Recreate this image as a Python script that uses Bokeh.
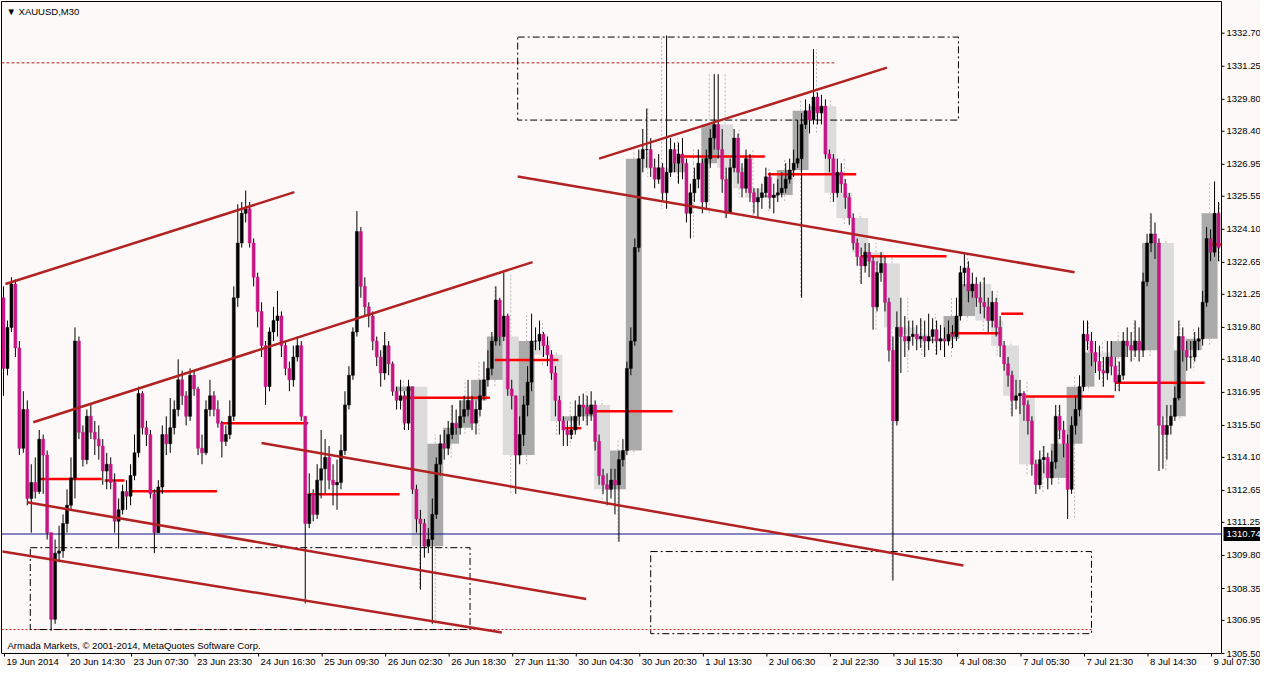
from bokeh.plotting import figure
from bokeh.models import Range1d, ColumnDataSource
from bokeh.core.properties import value
from bokeh.embed import file_html
from bokeh.resources import INLINE

# ---------------- data (XAUUSD; H1 resolution) ----------------
open_first = 1321.1
close = [
    1318.0, 1319.8, 1321.7, 1318.9, 1314.5, 1316.2, 1312.3, 1313.0, 1312.6, 1314.9,
    1314.2, 1310.8, 1307.0, 1309.9, 1310.0, 1311.2, 1312.0, 1313.2, 1319.2, 1315.2,
    1314.0, 1315.9, 1315.2, 1314.9, 1314.6, 1313.5, 1313.8, 1313.0, 1311.3, 1311.8,
    1312.6, 1312.4, 1313.3, 1314.3, 1316.9, 1315.4, 1315.1, 1312.5, 1310.8, 1312.8,
    1315.1, 1314.7, 1315.4, 1316.2, 1317.5, 1316.8, 1315.9, 1317.7, 1317.1, 1314.5,
    1314.3, 1316.2, 1316.8, 1316.2, 1315.6, 1314.8, 1315.1, 1315.9, 1321.1, 1323.5,
    1324.8, 1325.0, 1323.5, 1322.0, 1320.5, 1319.0, 1317.2, 1319.6, 1320.1, 1320.3,
    1319.0, 1318.0, 1317.5, 1318.5, 1319.0, 1315.9, 1311.2, 1312.5, 1311.6, 1313.1,
    1313.6, 1314.1, 1313.1, 1312.9, 1313.0, 1314.4, 1316.4, 1317.7, 1319.6, 1324.0,
    1321.6, 1320.7, 1320.3, 1319.2, 1318.5, 1317.8, 1319.0, 1318.2, 1317.0, 1316.6,
    1316.8, 1315.6, 1317.2, 1312.7, 1311.4, 1311.2, 1310.2, 1310.5, 1311.6, 1313.8,
    1314.7, 1314.5, 1315.1, 1315.6, 1315.4, 1315.9, 1316.2, 1316.6, 1315.6, 1316.2,
    1316.8, 1317.5, 1318.0, 1319.2, 1321.0, 1319.4, 1320.3, 1317.1, 1316.8, 1314.2,
    1315.1, 1316.4, 1317.4, 1319.2, 1319.2, 1319.5, 1319.0, 1318.6, 1317.8, 1316.6,
    1315.7, 1315.3, 1315.1, 1315.3, 1315.9, 1316.4, 1316.3, 1316.0, 1316.4, 1314.8,
    1313.3, 1312.9, 1312.7, 1313.1, 1312.9, 1314.0, 1314.4, 1318.0, 1319.2, 1323.3,
    1327.2, 1327.6, 1327.6, 1326.8, 1326.3, 1326.8, 1325.7, 1326.6, 1327.6, 1327.0,
    1327.4, 1327.0, 1324.8, 1325.7, 1326.3, 1327.0, 1325.3, 1327.2, 1328.1, 1328.7,
    1327.6, 1326.3, 1324.8, 1326.8, 1328.1, 1326.6, 1325.9, 1327.2, 1325.7, 1325.3,
    1325.5, 1325.7, 1326.4, 1325.5, 1325.6, 1325.7, 1325.9, 1326.3, 1326.7, 1327.0,
    1327.2, 1328.7, 1329.3, 1328.9, 1329.9, 1329.2, 1329.5, 1327.4, 1327.2, 1325.7,
    1326.6, 1326.1, 1325.5, 1324.6, 1323.5, 1322.9, 1322.5, 1323.1, 1322.7, 1320.7,
    1322.2, 1322.6, 1320.9, 1318.8, 1315.7, 1319.8, 1319.4, 1319.2, 1319.4, 1319.5,
    1319.3, 1319.4, 1319.2, 1319.4, 1319.7, 1319.2, 1319.3, 1319.2, 1319.5, 1319.4,
    1320.3, 1322.2, 1322.4, 1321.4, 1321.7, 1321.1, 1320.9, 1320.7, 1320.1, 1320.9,
    1319.8, 1319.0, 1318.2, 1317.7, 1316.6, 1316.8, 1316.9, 1316.4, 1315.7, 1313.8,
    1312.9, 1314.0, 1314.1, 1313.2, 1313.9, 1315.9, 1315.3, 1314.7, 1312.7, 1315.5,
    1316.2, 1317.2, 1319.5, 1319.2, 1318.7, 1318.3, 1317.9, 1317.8, 1318.5, 1318.1,
    1317.4, 1317.7, 1319.2, 1319.0, 1318.8, 1319.2, 1318.8, 1321.8, 1323.5, 1323.9,
    1323.5, 1315.5, 1315.1, 1315.5, 1315.9, 1316.7, 1319.4, 1318.8, 1318.5, 1318.5,
    1319.2, 1319.3, 1320.9, 1323.7, 1323.1, 1324.8, 1323.3,
]
high = [
    1321.6, 1320.1, 1322.0, 1321.9, 1319.2, 1317.0, 1316.6, 1313.8, 1314.1, 1315.3,
    1315.1, 1314.4, 1310.8, 1310.5, 1311.1, 1311.6, 1312.7, 1314.1, 1319.8, 1319.4,
    1315.5, 1316.2, 1316.4, 1315.7, 1315.5, 1314.9, 1314.3, 1314.1, 1313.4, 1312.3,
    1312.9, 1313.1, 1313.8, 1315.1, 1317.2, 1317.0, 1315.7, 1315.3, 1312.7, 1313.1,
    1315.5, 1315.9, 1316.7, 1316.6, 1318.4, 1317.9, 1317.0, 1318.0, 1317.9, 1317.2,
    1315.1, 1316.6, 1317.5, 1317.0, 1316.6, 1315.7, 1315.5, 1316.6, 1321.6, 1325.2,
    1325.3, 1325.8, 1325.3, 1323.7, 1322.2, 1320.9, 1319.2, 1319.8, 1320.7, 1321.4,
    1320.5, 1319.2, 1318.3, 1319.0, 1319.4, 1319.2, 1315.9, 1313.4, 1312.7, 1313.8,
    1315.3, 1314.9, 1314.6, 1313.8, 1314.0, 1315.1, 1317.0, 1318.1, 1319.8, 1324.9,
    1324.2, 1322.0, 1320.9, 1320.5, 1319.4, 1318.8, 1319.6, 1319.2, 1318.3, 1317.2,
    1317.5, 1317.0, 1317.5, 1317.2, 1312.9, 1311.8, 1311.4, 1311.0, 1312.3, 1314.1,
    1315.1, 1315.3, 1315.7, 1316.4, 1316.2, 1316.6, 1316.8, 1317.5, 1316.8, 1316.6,
    1317.5, 1318.3, 1318.8, 1319.6, 1321.6, 1321.1, 1322.2, 1320.4, 1317.5, 1316.8,
    1315.9, 1316.8, 1318.1, 1320.4, 1319.8, 1320.1, 1319.6, 1319.4, 1318.8, 1318.1,
    1316.8, 1315.9, 1315.7, 1315.9, 1316.6, 1316.8, 1316.9, 1316.8, 1317.0, 1316.6,
    1315.1, 1313.6, 1313.4, 1313.6, 1313.6, 1314.4, 1314.9, 1318.3, 1319.8, 1323.7,
    1327.6, 1328.5, 1329.4, 1328.1, 1327.2, 1327.4, 1327.0, 1332.6, 1328.1, 1327.9,
    1327.9, 1328.1, 1327.2, 1326.1, 1326.8, 1327.6, 1327.2, 1327.6, 1328.5, 1330.9,
    1330.9, 1328.5, 1326.8, 1327.2, 1328.5, 1328.3, 1327.0, 1327.6, 1327.4, 1325.9,
    1325.9, 1326.1, 1326.8, 1326.6, 1326.1, 1326.3, 1326.6, 1327.0, 1327.2, 1327.6,
    1328.9, 1329.2, 1329.8, 1329.6, 1332.0, 1330.1, 1330.0, 1329.8, 1327.6, 1327.4,
    1327.2, 1327.0, 1326.3, 1325.7, 1324.8, 1323.7, 1323.3, 1323.5, 1323.5, 1322.9,
    1322.7, 1323.1, 1322.9, 1321.1, 1319.4, 1320.5, 1321.1, 1320.3, 1320.1, 1320.1,
    1319.9, 1320.2, 1320.1, 1320.4, 1320.2, 1320.1, 1319.9, 1319.8, 1320.1, 1319.9,
    1321.1, 1322.5, 1323.1, 1322.7, 1322.2, 1322.0, 1321.8, 1322.0, 1321.1, 1321.4,
    1321.1, 1320.3, 1319.2, 1318.5, 1317.9, 1317.5, 1317.5, 1317.0, 1316.6, 1315.9,
    1314.0, 1314.4, 1314.6, 1314.3, 1314.4, 1316.4, 1316.4, 1315.7, 1315.1, 1315.9,
    1316.8, 1317.7, 1320.1, 1320.1, 1319.6, 1319.2, 1319.0, 1318.5, 1319.2, 1319.2,
    1318.5, 1318.3, 1319.6, 1319.8, 1319.6, 1320.1, 1319.8, 1322.2, 1323.9, 1324.8,
    1324.4, 1323.7, 1315.9, 1316.4, 1316.4, 1317.2, 1320.1, 1319.8, 1319.2, 1319.2,
    1319.6, 1319.8, 1321.4, 1324.2, 1324.1, 1326.2, 1325.3,
]
low = [
    1316.8, 1317.7, 1319.6, 1318.5, 1314.2, 1314.3, 1312.0, 1310.8, 1312.3, 1312.5,
    1312.5, 1310.5, 1306.5, 1306.8, 1309.5, 1309.7, 1310.8, 1311.8, 1312.3, 1314.9,
    1313.7, 1313.8, 1314.9, 1314.2, 1314.0, 1312.9, 1312.7, 1312.7, 1310.8, 1310.1,
    1311.6, 1311.8, 1312.0, 1313.1, 1314.1, 1315.1, 1314.6, 1312.3, 1309.9, 1310.8,
    1312.5, 1314.2, 1314.3, 1315.1, 1315.9, 1316.4, 1315.5, 1315.7, 1316.8, 1314.2,
    1313.8, 1314.2, 1315.9, 1315.9, 1315.4, 1314.1, 1314.6, 1314.9, 1315.7, 1320.7,
    1323.3, 1324.4, 1323.3, 1321.6, 1319.8, 1318.5, 1316.4, 1317.0, 1319.2, 1319.4,
    1318.5, 1317.7, 1317.0, 1317.2, 1318.3, 1315.7, 1307.7, 1311.0, 1311.3, 1311.4,
    1312.3, 1312.5, 1312.7, 1312.0, 1311.8, 1312.7, 1314.2, 1316.2, 1317.5, 1319.4,
    1321.1, 1320.3, 1319.8, 1318.8, 1318.1, 1317.2, 1317.5, 1317.7, 1316.8, 1316.2,
    1316.2, 1315.3, 1315.3, 1312.5, 1310.8, 1308.3, 1309.7, 1309.9, 1306.8, 1311.4,
    1313.3, 1314.0, 1314.2, 1314.9, 1315.1, 1315.1, 1315.6, 1315.9, 1315.3, 1315.1,
    1315.9, 1316.6, 1317.2, 1317.7, 1319.0, 1319.0, 1319.2, 1316.8, 1316.2, 1312.5,
    1313.8, 1314.6, 1315.9, 1317.0, 1318.8, 1318.8, 1318.5, 1318.1, 1317.5, 1315.9,
    1315.1, 1314.6, 1314.6, 1314.9, 1315.1, 1315.5, 1315.7, 1315.5, 1315.7, 1314.4,
    1312.9, 1312.5, 1312.0, 1312.3, 1311.6, 1310.4, 1313.7, 1314.2, 1317.7, 1319.0,
    1323.1, 1326.6, 1326.8, 1326.4, 1325.9, 1326.1, 1325.3, 1325.0, 1326.4, 1326.6,
    1326.1, 1326.3, 1324.4, 1323.7, 1325.3, 1325.9, 1324.8, 1325.0, 1326.8, 1327.6,
    1327.2, 1325.7, 1324.6, 1324.8, 1326.6, 1326.1, 1325.5, 1325.7, 1325.3, 1324.8,
    1324.6, 1325.0, 1325.5, 1325.0, 1324.8, 1325.3, 1325.5, 1325.7, 1326.1, 1326.4,
    1326.8, 1321.1, 1328.5, 1328.3, 1328.7, 1328.7, 1328.7, 1327.2, 1326.6, 1325.3,
    1325.5, 1325.7, 1325.0, 1324.3, 1323.2, 1322.5, 1321.7, 1322.2, 1322.0, 1319.7,
    1320.5, 1321.8, 1320.5, 1318.3, 1308.7, 1315.5, 1317.8, 1318.5, 1318.8, 1319.0,
    1318.8, 1318.9, 1318.5, 1318.8, 1319.1, 1318.6, 1318.8, 1318.5, 1319.0, 1318.9,
    1319.2, 1320.1, 1321.6, 1320.9, 1321.1, 1320.7, 1320.4, 1320.2, 1319.6, 1319.8,
    1319.4, 1318.5, 1317.9, 1317.2, 1315.9, 1316.2, 1316.0, 1315.7, 1315.1, 1313.3,
    1312.5, 1312.7, 1313.4, 1312.7, 1312.9, 1313.6, 1314.9, 1314.1, 1311.4, 1312.5,
    1315.1, 1315.9, 1317.0, 1318.8, 1318.1, 1317.8, 1317.5, 1317.2, 1317.5, 1317.7,
    1317.0, 1317.0, 1317.5, 1318.5, 1318.3, 1318.5, 1318.3, 1318.5, 1321.6, 1323.1,
    1322.8, 1313.5, 1313.6, 1314.0, 1315.1, 1315.7, 1316.6, 1318.3, 1317.9, 1318.0,
    1318.3, 1318.8, 1319.0, 1320.7, 1322.7, 1322.9, 1322.7,
]

# H4 periods (index of the H1 bar that opens each H4 period; last value = end)
h4_bounds = [99, 103, 107, 111, 115, 118, 122, 126, 130, 134, 138, 141, 145, 149, 153,
             157, 161, 164, 168, 172, 176, 180, 184, 187, 191, 195, 199, 203, 207, 210,
             214, 218, 222, 226, 230, 233, 237, 241, 245, 249, 252, 256, 260, 264, 268,
             272, 275, 279, 283, 287, 291, 295, 298, 302, 306, 307]

# trend lines: (M30 bar, price) -> (M30 bar, price)
trend_bar0 = [0.5, 14.5, 11.5, -1.0, 129.5, 258.5, 299.5]
trend_px0 = [1321.70, 1315.64, 1312.13, 1309.97, 1314.73, 1326.42, 1327.20]
trend_bar1 = [146.0, 266.0, 293.0, 250.5, 483.0, 539.0, 444.5]
trend_px1 = [1325.73, 1322.66, 1307.89, 1306.42, 1309.36, 1322.22, 1331.19]

# red daily levels
level_px = [1313.15, 1313.09, 1312.61, 1315.60, 1312.48, 1316.72, 1318.37, 1315.38, 1316.12,
            1327.29, 1326.51, 1322.92, 1319.54, 1320.40, 1316.77, 1317.37, 1323.43]
level_bar0 = [17, 50.5, 63, 109, 154, 200.5, 247, 282, 293, 339, 384.5, 431.5, 476.5, 502,
              514.5, 559.5, 608]
level_bar1 = [49, 60.5, 107, 153, 199, 244.5, 279, 290.5, 336.5, 383, 429, 474.5, 501, 513,
              559, 604.5, 613]

# dash-dot zones
zone_bar0 = [258.5, 13.0, 325.5]
zone_bar1 = [480.5, 234.5, 547.5]
zone_top = [1332.53, 1310.14, 1309.97]
zone_bottom = [1328.89, 1306.55, 1306.37]

resist_px, resist_bar1 = 1331.40, 418.0
support_px, support_bar1 = 1306.55, 547.5
hline_px = 1310.74

price_ticks = [1305.50, 1306.95, 1308.35, 1309.80, 1311.25, 1312.65, 1314.10, 1315.50,
               1316.95, 1318.40, 1319.80, 1321.25, 1322.65, 1324.10, 1325.55, 1326.95,
               1328.40, 1329.80, 1331.25, 1332.70]
time_labels = ["19 Jun 2014", "20 Jun 14:30", "23 Jun 07:30", "23 Jun 23:30", "24 Jun 16:30",
               "25 Jun 09:30", "26 Jun 02:30", "26 Jun 18:30", "27 Jun 11:30", "30 Jun 04:30",
               "30 Jun 20:30", "1 Jul 13:30", "2 Jul 06:30", "2 Jul 22:30", "3 Jul 15:30",
               "4 Jul 08:30", "7 Jul 05:30", "7 Jul 21:30", "8 Jul 14:30", "9 Jul 07:30"]
time_label_bars = [32 * k for k in range(len(time_labels))]

# ---------------- derived tables ----------------
opens = [open_first] + close[:-1]
n = len(close)
xc = [2 * j - 0.5 for j in range(n)]
bull = [close[j] >= opens[j] for j in range(n)]
candles = ColumnDataSource(dict(
    x=xc, h=high, l=low,
    top=[max(opens[j], close[j]) for j in range(n)],
    bot=[min(opens[j], close[j]) for j in range(n)],
    col=["#000000" if bull[j] else "#C71585" for j in range(n)],
))

bl, br, bt, bb, bcol, bx, bh, blo = [], [], [], [], [], [], [], []
for a, b in zip(h4_bounds[:-1], h4_bounds[1:]):
    o = opens[a]
    c = close[b - 1]
    bl.append(2 * a - 1)
    br.append(2 * b - 1)
    bt.append(max(o, c))
    bb.append(min(o, c))
    bcol.append("#AAAAAA" if c >= o else "#DCDCDC")
    bx.append((2 * a - 1 + 2 * b - 1) / 2)
    bh.append(max(high[a:b]))
    blo.append(min(low[a:b]))
boxes = ColumnDataSource(dict(l=bl, r=br, t=bt, b=bb, col=bcol, x=bx, h=bh, lo=blo))

# ---------------- layout (whole figure is the drawing frame) ----------------
W, H = 1260, 666
BAR_L, BAR_R = -1.5, 613.0          # chart window in M30 bars
P_TOP, P_BOT = 1334.09, 1305.5      # chart window in price
FX_L, FX_R, FY_T, FY_B = 1, 1221, 1, 653   # chart window in figure pixels
sx = (FX_R - FX_L) / (BAR_R - BAR_L)
sy = (FY_B - FY_T) / (P_TOP - P_BOT)
x_range = Range1d(BAR_L - FX_L / sx, BAR_L + (W - FX_L) / sx)
y_range = Range1d(P_BOT - (H - FY_B) / sy, P_TOP + FY_T / sy)

BG = "#FCF9F8"
FONT = "Liberation Sans"
FS = "9.5px"

p = figure(width=W, height=H, output_backend="svg", toolbar_location=None,
           x_range=x_range, y_range=y_range, x_axis_location=None, y_axis_location=None,
           min_border=0)
p.background_fill_color = BG
p.border_fill_color = BG
p.outline_line_color = None
p.grid.visible = False

# H4 boxes and their wicks
p.segment(x0="x", y0="t", x1="x", y1="h", source=boxes, line_color="#B8B8B8",
          line_width=1, line_dash="2 2")
p.segment(x0="x", y0="b", x1="x", y1="lo", source=boxes, line_color="#B8B8B8",
          line_width=1, line_dash="2 2")
p.quad(left="l", right="r", top="t", bottom="b", source=boxes, fill_color="col",
       line_color=None)

# horizontal lines
p.segment(x0=[BAR_L], y0=[hline_px], x1=[BAR_R], y1=[hline_px], line_color="#10108C",
          line_width=1.2)
p.segment(x0=[BAR_L], y0=[resist_px], x1=[resist_bar1], y1=[resist_px], line_color="#B22222",
          line_width=1, line_dash="3 2")
p.segment(x0=[BAR_L], y0=[support_px], x1=[support_bar1], y1=[support_px],
          line_color="#D02020", line_width=1, line_dash="2 2")

# dash-dot zones
p.quad(left=zone_bar0, right=zone_bar1, top=zone_top, bottom=zone_bottom, fill_color=None,
       line_color="black", line_width=1, line_dash="7 3 2 3")

# red daily levels
p.segment(x0=level_bar0, y0=level_px, x1=level_bar1, y1=level_px, line_color="#FF0000",
          line_width=2.5)

# candles
p.segment(x0="x", y0="l", x1="x", y1="h", source=candles, line_color="black", line_width=1)
p.vbar(x="x", width=1.5, top="top", bottom="bot", source=candles, fill_color="col",
       line_color="col", line_width=0.5)

# trend lines
p.segment(x0=trend_bar0, y0=trend_px0, x1=trend_bar1, y1=trend_px1, line_color="#B22222",
          line_width=2.5)

# chart frame
p.quad(left=[BAR_L], right=[BAR_R], top=[P_TOP], bottom=[P_BOT], fill_color=None,
       line_color="black", line_width=1)

# price scale (right): ticks + labels
p.segment(x0=[BAR_R] * len(price_ticks), y0=price_ticks,
          x1=[BAR_R + 3 / sx] * len(price_ticks), y1=price_ticks, line_color="black",
          line_width=1)
p.text(x=[BAR_R] * len(price_ticks), y=price_ticks, text=["%.2f" % v for v in price_ticks],
       x_offset=5, text_font=value(FONT), text_font_size=value(FS), text_color="black",
       text_baseline="middle", text_align="left")

# current-level marker on the price scale
p.quad(left=[BAR_R + 2 / sx], right=[BAR_R + 39 / sx], top=[hline_px + 7 / sy],
       bottom=[hline_px - 7 / sy], fill_color="black", line_color=None)
p.text(x=[BAR_R], y=[hline_px], text=["%.2f" % hline_px], x_offset=5, text_font=value(FONT),
       text_font_size=value(FS), text_color="white", text_baseline="middle",
       text_align="left")

# time scale (bottom): ticks + labels
p.segment(x0=time_label_bars, y0=[P_BOT] * len(time_label_bars), x1=time_label_bars,
          y1=[P_BOT - 3 / sy] * len(time_label_bars), line_color="black", line_width=1)
p.text(x=time_label_bars, y=[P_BOT] * len(time_label_bars), text=time_labels, x_offset=2,
       y_offset=2, text_font=value(FONT), text_font_size=value(FS), text_color="black",
       text_baseline="top", text_align="left")

# chart captions
p.text(x=[BAR_L], y=[P_TOP], text=["\u25BC XAUUSD,M30"], x_offset=5, y_offset=4,
       text_font=value(FONT), text_font_size=value(FS), text_color="black",
       text_baseline="top", text_align="left")
p.text(x=[BAR_L], y=[P_BOT], text=["Armada Markets, \u00A9 2001-2014, MetaQuotes Software Corp."],
       x_offset=6, y_offset=-3, text_font=value(FONT), text_font_size=value(FS),
       text_color="black", text_baseline="bottom", text_align="left")

open("out.html", "w").write(file_html(p, INLINE))
